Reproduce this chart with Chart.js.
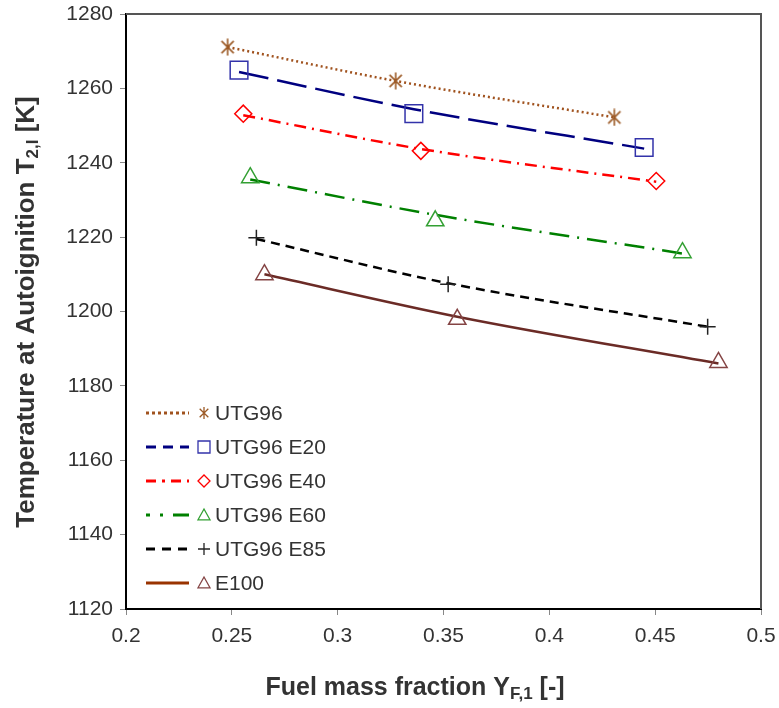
<!DOCTYPE html>
<html>
<head>
<meta charset="utf-8">
<script src="https://cdn.jsdelivr.net/npm/chart.js@4.4.1/dist/chart.umd.min.js"></script>
<style>
  html, body { margin: 0; padding: 0; background: #fff; }
  #wrap { width: 779px; height: 708px; }
</style>
</head>
<body>
<div id="wrap"><canvas id="chart" width="779" height="708"></canvas></div>
<script>
// series names, as in the legend
const seriesNames = ['UTG96', 'UTG96 E20', 'UTG96 E40', 'UTG96 E60', 'UTG96 E85', 'E100'];

// measured points (fuel mass fraction, temperature)
const utg96X = [0.248, 0.3274, 0.4307];
const utg96Y = [1271.1, 1262.0, 1252.2];
const e20X = [0.2534, 0.336, 0.4448];
const e20Y = [1264.9, 1253.2, 1244.1];
const e40X = [0.2554, 0.3393, 0.4505];
const e40Y = [1253.2, 1243.2, 1235.1];
const e60X = [0.2587, 0.3461, 0.4629];
const e60Y = [1236.0, 1224.4, 1215.8];
const e85X = [0.2616, 0.3522, 0.4748];
const e85Y = [1219.8, 1207.3, 1195.9];
const e100X = [0.2654, 0.3565, 0.4799];
const e100Y = [1209.9, 1197.9, 1186.3];

// trend line values read at the same x positions
const utg96Fit = [1271.1, 1262.0, 1252.2];
const e20Fit = [1264.4, 1254.4, 1243.8];
const e40Fit = [1252.8, 1243.7, 1234.9];
const e60Fit = [1235.5, 1226.0, 1215.6];
const e85Fit = [1219.5, 1207.6, 1195.9];
const e100Fit = [1210.0, 1198.6, 1186.0];

// axis ticks
const xTickLabels = ['0.2', '0.25', '0.3', '0.35', '0.4', '0.45', '0.5'];
const yTickLabels = ['1120', '1140', '1160', '1180', '1200', '1220', '1240', '1260', '1280'];

const xs = [utg96X, e20X, e40X, e60X, e85X, e100X];
const ys = [utg96Y, e20Y, e40Y, e60Y, e85Y, e100Y];
const fits = [utg96Fit, e20Fit, e40Fit, e60Fit, e85Fit, e100Fit];

const styles = [
    { line: '#A0521E', legendLine: '#A0521E', marker: '#9C5A26', dash: [2, 3], legendDash: [3, 3], shape: 'asterisk', r: 8 },
    { line: '#000080', legendLine: '#000080', marker: '#3333AA', dash: [30, 9], legendDash: [10, 7], shape: 'rect', r: 12.5 },
    { line: '#FF0000', legendLine: '#FF0000', marker: '#FF0000', dash: [12, 6, 2, 6], legendDash: [10, 6, 3, 6], shape: 'rectRot', r: 8.5 },
    { line: '#008000', legendLine: '#008000', marker: '#33A033', dash: [20, 8, 2, 8], legendDash: [4, 10, 3, 10, 16, 0], shape: 'triangle', r: 10 },
    { line: '#000000', legendLine: '#000000', marker: '#222222', dash: [9, 6], legendDash: [9, 7], shape: 'cross', r: 8 },
    { line: '#6B2B26', legendLine: '#993300', marker: '#844444', dash: [], legendDash: [], shape: 'triangle', r: 10 }
];

function asteriskPath(g, x, y, s) {
    const d = s * 0.72;
    g.moveTo(x - d, y - d); g.lineTo(x + d, y + d);
    g.moveTo(x - d, y + d); g.lineTo(x + d, y - d);
    g.moveTo(x, y - s); g.lineTo(x, y + s);
}

function asteriskCanvas(color, size) {
    const c = document.createElement('canvas');
    c.width = size; c.height = size;
    const g = c.getContext('2d');
    g.strokeStyle = color;
    g.lineWidth = 1.6;
    g.beginPath();
    asteriskPath(g, size / 2, size / 2, size / 2 - 0.5);
    g.stroke();
    return c;
}

const datasets = [];
seriesNames.forEach((name, i) => {
    const st = styles[i];
    datasets.push({
        label: name + ' fit',
        data: xs[i].map((x, k) => ({ x: x, y: fits[i][k] })),
        showLine: true,
        borderColor: st.line,
        borderWidth: 2.5,
        borderDash: st.dash,
        cubicInterpolationMode: 'monotone',
        pointRadius: 0,
        fill: false,
        order: 2
    });
    datasets.push({
        label: name,
        data: xs[i].map((x, k) => ({ x: x, y: ys[i][k] })),
        showLine: false,
        pointStyle: st.shape === 'asterisk' ? asteriskCanvas(st.marker, 18) : st.shape,
        pointRadius: st.r,
        pointBorderColor: st.marker,
        pointBackgroundColor: 'rgba(0,0,0,0)',
        pointBorderWidth: 1.5,
        order: 1
    });
});

function drawMarker(ctx, shape, x, y, s, color) {
    ctx.save();
    ctx.strokeStyle = color;
    ctx.lineWidth = 1.3;
    ctx.setLineDash([]);
    ctx.beginPath();
    if (shape === 'asterisk') {
        asteriskPath(ctx, x, y, s);
    } else if (shape === 'rect') {
        ctx.rect(x - s, y - s, 2 * s, 2 * s);
    } else if (shape === 'rectRot') {
        ctx.moveTo(x - s, y); ctx.lineTo(x, y - s); ctx.lineTo(x + s, y); ctx.lineTo(x, y + s); ctx.closePath();
    } else if (shape === 'triangle') {
        ctx.moveTo(x, y - s); ctx.lineTo(x + s, y + s * 0.8); ctx.lineTo(x - s, y + s * 0.8); ctx.closePath();
    } else if (shape === 'cross') {
        ctx.moveTo(x - s, y); ctx.lineTo(x + s, y);
        ctx.moveTo(x, y - s); ctx.lineTo(x, y + s);
    }
    ctx.stroke();
    ctx.restore();
}

function drawRich(ctx, parts, cx, cy, size) {
    const big = 'bold ' + size + 'px "Liberation Sans", Arial, sans-serif';
    const small = 'bold ' + Math.round(size * 0.66) + 'px "Liberation Sans", Arial, sans-serif';
    let total = 0;
    parts.forEach(p => { ctx.font = p.sub ? small : big; total += ctx.measureText(p.t).width; });
    let x = cx - total / 2;
    parts.forEach(p => {
        ctx.font = p.sub ? small : big;
        ctx.fillText(p.t, x, p.sub ? cy + 6 : cy);
        x += ctx.measureText(p.t).width;
    });
}

const extras = {
    id: 'extras',
    afterDraw(chart) {
        const ctx = chart.ctx;
        const a = chart.chartArea;
        // plot box, top and right side
        ctx.save();
        ctx.strokeStyle = '#555';
        ctx.lineWidth = 2;
        ctx.beginPath();
        ctx.moveTo(a.left, a.top); ctx.lineTo(a.right, a.top); ctx.lineTo(a.right, a.bottom);
        ctx.stroke();

        // legend
        const lx = 146, tx = 215;
        const ly = [413, 447, 481, 515, 549, 583];
        ctx.font = '21px "Liberation Sans", Arial, sans-serif';
        ctx.textBaseline = 'middle';
        seriesNames.forEach((name, i) => {
            const st = styles[i];
            ctx.save();
            ctx.strokeStyle = st.legendLine;
            ctx.lineWidth = 3;
            ctx.setLineDash(st.legendDash);
            ctx.beginPath();
            ctx.moveTo(lx, ly[i]); ctx.lineTo(lx + 43, ly[i]);
            ctx.stroke();
            ctx.restore();
            drawMarker(ctx, st.shape, 204, ly[i], 6, st.marker);
            ctx.fillStyle = '#333';
            ctx.fillText(name, tx, ly[i] + 1);
        });

        // axis titles
        ctx.fillStyle = '#333';
        ctx.textBaseline = 'middle';
        drawRich(ctx, [{ t: 'Fuel mass fraction Y' }, { t: 'F,1', sub: true }, { t: ' [-]' }], 415, 688, 25);
        ctx.translate(27, 312);
        ctx.rotate(-Math.PI / 2);
        drawRich(ctx, [{ t: 'Temperature at Autoignition T' }, { t: '2,I', sub: true }, { t: ' [K]' }], 0, 0, 26);
        ctx.restore();
    }
};

new Chart(document.getElementById('chart'), {
    type: 'scatter',
    data: { datasets: datasets },
    options: {
        responsive: false,
        animation: false,
        devicePixelRatio: 1,
        layout: { padding: { left: 0, top: 13, right: 18, bottom: 0 } },
        plugins: { legend: { display: false }, tooltip: { enabled: false } },
        scales: {
            x: {
                type: 'linear', min: 0.2, max: 0.5,
                afterFit: s => { s.height = 99; s.paddingLeft = 0; s.paddingRight = 0; },
                afterBuildTicks: s => { s.ticks = xTickLabels.map(v => ({ value: parseFloat(v) })); },
                ticks: {
                    callback: (v, i) => xTickLabels[i],
                    font: { size: 21, family: '"Liberation Sans", Arial, sans-serif' },
                    color: '#333', padding: 9, maxRotation: 0
                },
                grid: { drawOnChartArea: false, tickLength: 6, color: '#888' },
                border: { color: '#000', width: 2 }
            },
            y: {
                type: 'linear', min: 1120, max: 1280,
                afterFit: s => { s.width = 126; s.paddingTop = 0; s.paddingBottom = 0; },
                afterBuildTicks: s => { s.ticks = yTickLabels.map(v => ({ value: parseFloat(v) })); },
                ticks: {
                    callback: (v, i) => yTickLabels[i],
                    font: { size: 21, family: '"Liberation Sans", Arial, sans-serif' },
                    color: '#333', padding: 7
                },
                grid: { drawOnChartArea: false, tickLength: 6, color: '#888' },
                border: { color: '#000', width: 2 }
            }
        }
    },
    plugins: [extras]
});
</script>
</body>
</html>
